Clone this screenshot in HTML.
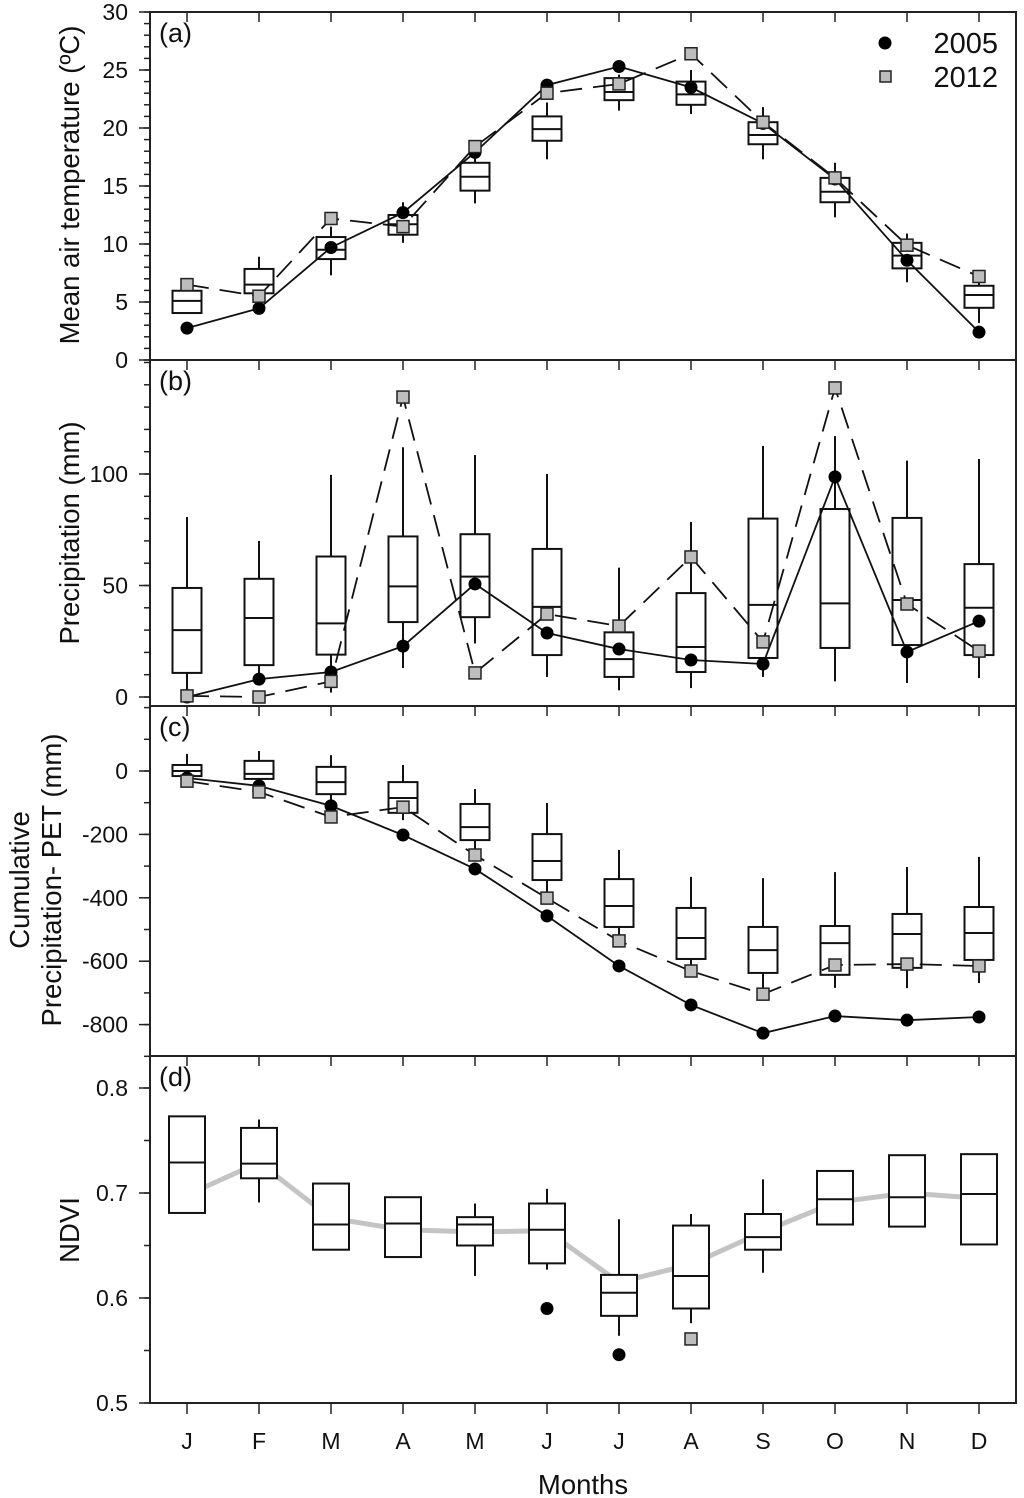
<!DOCTYPE html>
<html><head><meta charset="utf-8"><style>
html,body{margin:0;padding:0;background:#fff;}
svg{display:block;font-family:"Liberation Sans",Arial,sans-serif;}
</style></head><body>
<svg id="chart" width="1024" height="1498" viewBox="0 0 1024 1498" xmlns="http://www.w3.org/2000/svg"></svg>
<script>
const months=['J','F','M','A','M','J','J','A','S','O','N','D'];
// (a) temperature
const tempLo=[4.05,5.5,7.3,10.1,13.5,17.3,21.5,21.2,17.3,12.3,6.7,3.2];
const tempQ1=[4.05,5.75,8.7,10.8,14.6,18.9,22.4,22.0,18.6,13.6,7.9,4.5];
const tempMed=[5.1,6.5,9.5,11.7,15.8,19.9,23.1,22.9,19.4,14.5,9.0,5.6];
const tempQ3=[5.97,7.85,10.6,12.5,17.0,21.0,24.3,24.0,20.5,15.7,10.1,6.4];
const tempHi=[5.97,8.9,11.5,13.6,17.8,22.2,24.6,25.0,21.8,17.0,10.9,6.7];
const temp2005=[2.75,4.45,9.7,12.7,17.9,23.7,25.3,23.5,20.4,15.6,8.6,2.4];
const temp2012=[6.5,5.5,12.2,11.5,18.4,23.0,23.8,26.4,20.5,15.7,9.9,7.2];
// (b) precipitation
const precLo=[1,8,2,13,24,9,3,4,9,7,6.3,8.5];
const precQ1=[10.8,14.3,19,33.6,35.8,18.8,9,11.2,17.5,22,23.3,18.8];
const precMed=[30,35.4,33,49.6,54,40.4,17,22.4,41.3,42,43.5,40];
const precQ3=[48.9,53,63,72,73,66.4,29,46.6,80,84.3,80.3,59.6];
const precHi=[80.7,70,99.6,112,108.5,100,58,78.5,112.6,117,106,106.7];
const prec2005=[0,8,11.2,22.8,50.7,28.7,21.5,16.6,14.8,98.7,20.2,34];
const prec2012=[0.5,0,7,134.5,10.8,37.2,31.8,62.8,24.7,138.6,41.7,20.6];
// (c) cumulative P - PET
const cumLo=[-25,-35,-100,-155,-249,-385,-517,-618,-697,-684,-685,-669];
const cumQ1=[-16,-25,-73,-132,-218,-344,-492,-593,-637,-643,-621,-596];
const cumMed=[0,-9,-35,-85,-177,-284,-426,-527,-565,-543,-514,-511];
const cumQ3=[19,32,13,-35,-104,-199,-341,-432,-492,-489,-451,-429];
const cumHi=[54,63,50,19,-57,-101,-249,-334,-338,-319,-303,-271];
const cum2005=[-22,-47,-110,-202,-309,-457,-615,-738,-827,-773,-786,-776];
const cum2012=[-32,-66,-145,-114,-265,-401,-536,-631,-704,-612,-609,-615];
// (d) NDVI
const ndviLo=[0.681,0.691,0.646,0.639,0.621,0.627,0.564,0.576,0.624,0.670,0.668,0.651];
const ndviQ1=[0.681,0.714,0.646,0.639,0.650,0.633,0.583,0.590,0.646,0.670,0.668,0.651];
const ndviMed=[0.729,0.728,0.670,0.671,0.670,0.665,0.605,0.621,0.658,0.694,0.696,0.699];
const ndviQ3=[0.773,0.762,0.709,0.696,0.677,0.690,0.622,0.669,0.680,0.721,0.736,0.737];
const ndviHi=[0.773,0.770,0.709,0.696,0.690,0.704,0.675,0.680,0.713,0.721,0.736,0.737];
const ndviMean=[0.698,0.729,0.676,0.665,0.663,0.664,0.615,0.632,0.663,0.691,0.700,0.695];
const ndviOut2005Idx=[5,6];
const ndviOut2005Val=[0.590,0.546];
const ndviOut2012Idx=[7];
const ndviOut2012Val=[0.561];

const NS='http://www.w3.org/2000/svg';
const svg=document.getElementById('chart');
const L=150,R=1016;
function xm(i){return 187+i*72;}
function mk(tag,attrs,parent){const e=document.createElementNS(NS,tag);for(const k in attrs)e.setAttribute(k,attrs[k]);(parent||svg).appendChild(e);return e;}
function scale(v0,y0,v1,y1){return v=>y0+(v-v0)*(y1-y0)/(v1-v0);}

function panel(name,top,bot,ys,majors,minors,label){
  const g=mk('g',{});
  
  
  const fr=mk('rect',{x:L,y:top,width:R-L,height:bot-top,fill:'none',stroke:'#222','stroke-width':2},g);
  
  
  minors.forEach(v=>{const y=ys(v);if(y>=top-0.5&&y<=bot+0.5){const t=mk('line',{x1:L-6,x2:L,y1:y,y2:y,stroke:'#222','stroke-width':1.5},g);}});
  majors.forEach(v=>{const y=ys(v);const t=mk('line',{x1:L-11,x2:L,y1:y,y2:y,stroke:'#222','stroke-width':1.5},g);
    const tx=mk('text',{x:128,y:y+8,'text-anchor':'end','font-size':23,fill:'#111'},g);tx.textContent=String(v);});
  months.forEach((m,i)=>{const t=mk('line',{x1:xm(i),x2:xm(i),y1:top,y2:top+10,stroke:'#222','stroke-width':1.5},g);});
  const pl=mk('text',{x:159,y:top+30,'font-size':27,fill:'#111'},g);pl.textContent=label;
  
  return g;
}
function boxes(g,name,ys,lo,q1,med,q3,hi,w,fill){
  months.forEach((m,i)=>{
    const x=xm(i);
    const bg=mk('g',{},g);
    
    
    mk('line',{x1:x,x2:x,y1:ys(hi[i]),y2:ys(q3[i]),stroke:'#111','stroke-width':2},bg);
    mk('line',{x1:x,x2:x,y1:ys(q1[i]),y2:ys(lo[i]),stroke:'#111','stroke-width':2},bg);
    mk('rect',{x:x-w/2,y:ys(q3[i]),width:w,height:ys(q1[i])-ys(q3[i]),fill:fill,stroke:'#111','stroke-width':2},bg);
    mk('line',{x1:x-w/2,x2:x+w/2,y1:ys(med[i]),y2:ys(med[i]),stroke:'#111','stroke-width':2},bg);
  });
}
function series(g,name,ys,vals,dashed,square){
  const pts=vals.map((v,i)=>xm(i)+','+ys(v)).join(' ');
  const pl=mk('polyline',{points:pts,fill:'none',stroke:'#111','stroke-width':1.8},g);
  if(dashed)pl.setAttribute('stroke-dasharray','22 11');
  
  
  vals.forEach((v,i)=>{
    let e;
    if(square)e=mk('rect',{x:xm(i)-6,y:ys(v)-6,width:12,height:12,fill:'#bdbdbd',stroke:'#222','stroke-width':1.5},g);
    else e=mk('circle',{cx:xm(i),cy:ys(v),r:6.5,fill:'#000'},g);
    
    
  });
}
function range(a,b,s){const r=[];for(let v=a;v<=b+1e-9;v+=s)r.push(Math.round(v*1000)/1000);return r;}

// Panel a
const ya=scale(0,360,30,12);
const ga=panel('temperature',12,360,ya,[0,5,10,15,20,25,30],range(0,30,1),'(a)');
boxes(ga,'temperature',ya,tempLo,tempQ1,tempMed,tempQ3,tempHi,29,'none');
series(ga,'temperature-2005',ya,temp2005,false,false);
series(ga,'temperature-2012',ya,temp2012,true,true);
// legend
const lg=mk('g',{});


const l1=mk('circle',{cx:885,cy:43,r:6.5,fill:'#000'},lg);

const lt1=mk('text',{x:998,y:53,'text-anchor':'end','font-size':29,fill:'#111'},lg);lt1.textContent='2005';

const l2=mk('rect',{x:880,y:71,width:11,height:11,fill:'#bdbdbd',stroke:'#222','stroke-width':1.5},lg);

const lt2=mk('text',{x:998,y:87,'text-anchor':'end','font-size':29,fill:'#111'},lg);lt2.textContent='2012';


// Panel b
const yb=scale(0,697,100,474);
const gb=panel('precipitation',360,706,yb,[0,50,100],range(0,150,10),'(b)');
boxes(gb,'precipitation',yb,precLo,precQ1,precMed,precQ3,precHi,29,'none');
series(gb,'precipitation-2005',yb,prec2005,false,false);
series(gb,'precipitation-2012',yb,prec2012,true,true);

// Panel c
const yc=scale(0,771,-200,834.4);
const gc=panel('cumulative',706,1056,yc,[0,-200,-400,-600,-800],range(-900,200,100),'(c)');
boxes(gc,'cumulative',yc,cumLo,cumQ1,cumMed,cumQ3,cumHi,29,'none');
series(gc,'cumulative-2005',yc,cum2005,false,false);
series(gc,'cumulative-2012',yc,cum2012,true,true);

// Panel d
const yd=scale(0.8,1088,0.5,1403);
const gd=panel('ndvi',1056,1403,yd,[0.5,0.6,0.7,0.8],range(0.5,0.8,0.05),'(d)');
const ml=mk('polyline',{points:ndviMean.map((v,i)=>xm(i)+','+yd(v)).join(' '),fill:'none',stroke:'#c4c4c4','stroke-width':5,'stroke-linejoin':'round'},gd);


boxes(gd,'ndvi',yd,ndviLo,ndviQ1,ndviMed,ndviQ3,ndviHi,36,'#fff');
ndviOut2005Idx.forEach((idx,k)=>{const c=mk('circle',{cx:xm(idx),cy:yd(ndviOut2005Val[k]),r:6.5,fill:'#000'},gd);
  });
ndviOut2012Idx.forEach((idx,k)=>{const c=mk('rect',{x:xm(idx)-6,y:yd(ndviOut2012Val[k])-6,width:12,height:12,fill:'#bdbdbd',stroke:'#222','stroke-width':1.5},gd);
  });
// bottom month ticks + labels
months.forEach((m,i)=>{
  const t=mk('line',{x1:xm(i),x2:xm(i),y1:1403,y2:1414,stroke:'#222','stroke-width':1.5});
  
  const tx=mk('text',{x:xm(i),y:1449,'text-anchor':'middle','font-size':23,fill:'#111'});tx.textContent=m;
  
});
// axis titles
function title(txt,x,y,rot,name){const t=mk('text',{x:x,y:y,'text-anchor':'middle','font-size':27.5,fill:'#111',transform:rot?'rotate(-90 '+x+' '+y+')':''});t.textContent=txt;
  }
title('Mean air temperature (ºC)',79,185,true,'y-axis-title-temperature');
title('Precipitation (mm)',79,533,true,'y-axis-title-precipitation');
title('Cumulative',29,880,true,'y-axis-title-cumulative-line1');
title('Precipitation- PET (mm)',61,880,true,'y-axis-title-cumulative-line2');
title('NDVI',79,1230,true,'y-axis-title-ndvi');
title('Months',583,1494,false,'x-axis-title');
</script>
</body></html>
